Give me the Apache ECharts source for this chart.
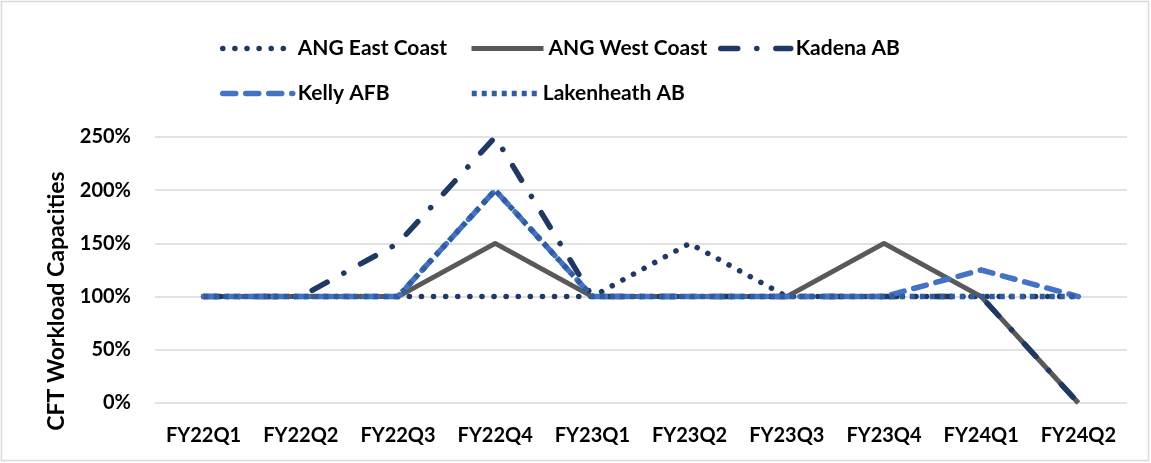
<!DOCTYPE html>
<html>
<head>
<meta charset="utf-8">
<script src="https://cdn.jsdelivr.net/npm/echarts@6/dist/echarts.min.js"></script>
<style>
  html, body { margin: 0; padding: 0; background: #fff; }
  #chart { width: 1151px; height: 463px; }
</style>
</head>
<body>
<div id="chart"></div>
<script>
// Quarterly CFT workload capacity by site (percent)
const quarters = ['FY22Q1', 'FY22Q2', 'FY22Q3', 'FY22Q4', 'FY23Q1', 'FY23Q2', 'FY23Q3', 'FY23Q4', 'FY24Q1', 'FY24Q2'];
const angEastCoast = [100, 100, 100, 100, 100, 150, 100, 100, 100, 100];
const angWestCoast = [100, 100, 100, 150, 100, 100, 100, 150, 100, 0];
const kadenaAB     = [100, 100, 150, 250, 100, 100, 100, 100, 100, 0];
const kellyAFB     = [100, 100, 100, 200, 100, 100, 100, 100, 125, 100];
const lakenheathAB = [100, 100, 100, 200, 100, 100, 100, 100, 100, 100];
const yTicks = [0, 50, 100, 150, 200, 250];

const FONT = 'Lato, "Open Sans", sans-serif';

const seriesDefs = [
  { name: 'ANG East Coast', data: angEastCoast, color: '#1F3864', type: [0.1, 12], cap: 'round', width: 5.5 },
  { name: 'ANG West Coast', data: angWestCoast, color: '#595959', type: 'solid', cap: 'butt', width: 5 },
  { name: 'Kadena AB',      data: kadenaAB,     color: '#1F3864', type: [17, 19, 0.1, 19], cap: 'round', width: 5.5 },
  { name: 'Kelly AFB',      data: kellyAFB,     color: '#4472C4', type: [13, 10], cap: 'round', width: 5.5 },
  { name: 'Lakenheath AB',  data: lakenheathAB, color: '#2F5E9E', type: [5, 5], cap: 'butt', width: 5.5 }
];

// legend item anchor (left, top) and icon width
const legendPos = [
  [215, 33, 70], [464, 33, 72], [713, 33, 70],
  [215, 78, 70], [464, 78, 66]
];

const chart = echarts.init(document.getElementById('chart'), null, { renderer: 'canvas' });

chart.setOption({
  animation: false,
  backgroundColor: '#ffffff',
  graphic: [{
    type: 'rect',
    shape: { x: 1.5, y: 1.5, width: 1147, height: 459 },
    style: { fill: 'none', stroke: '#d9d9d9', lineWidth: 1.5 },
    silent: true
  }, {
    type: 'text',
    x: 57,
    y: 301,
    rotation: Math.PI / 2,
    style: {
      text: 'CFT Workload Capacities',
      fontFamily: FONT, fontWeight: 'bold', fontSize: 23, fill: '#000',
      align: 'center', verticalAlign: 'middle'
    },
    silent: true
  }],
  legend: seriesDefs.map((s, i) => ({
    data: [s.name],
    left: legendPos[i][0],
    top: legendPos[i][1],
    itemWidth: legendPos[i][2],
    itemHeight: 20,
    itemGap: 0,
    itemStyle: { color: 'rgba(0,0,0,0)', borderWidth: 0, opacity: 0 },
    lineStyle: { width: s.width, color: s.color, type: s.type, cap: s.cap },
    textStyle: { fontFamily: FONT, fontWeight: 'bold', fontSize: 21, color: '#000' }
  })),
  grid: { left: 155, right: 24, top: 137, bottom: 60, containLabel: false },
  xAxis: {
    type: 'category',
    data: quarters,
    boundaryGap: true,
    axisLine: { show: false },
    axisTick: { show: false },
    axisLabel: { interval: 0, fontFamily: FONT, fontWeight: 'bold', fontSize: 20, color: '#000', margin: 23 }
  },
  yAxis: {
    type: 'value',
    min: yTicks[0],
    max: yTicks[yTicks.length - 1],
    interval: 50,
    axisLine: { show: false },
    axisTick: { show: false },
    splitLine: { lineStyle: { color: '#d9d9d9', width: 1.5 } },
    axisLabel: { fontFamily: FONT, fontWeight: 'bold', fontSize: 20, color: '#000', margin: 24, formatter: v => v + '%' }
  },
  series: seriesDefs.map(s => ({
    name: s.name,
    type: 'line',
    data: s.data,
    symbol: 'none',
    color: s.color,
    lineStyle: { color: s.color, width: s.width, type: s.type, cap: s.cap, join: 'round' },
    z: 2
  }))
});
</script>
</body>
</html>
